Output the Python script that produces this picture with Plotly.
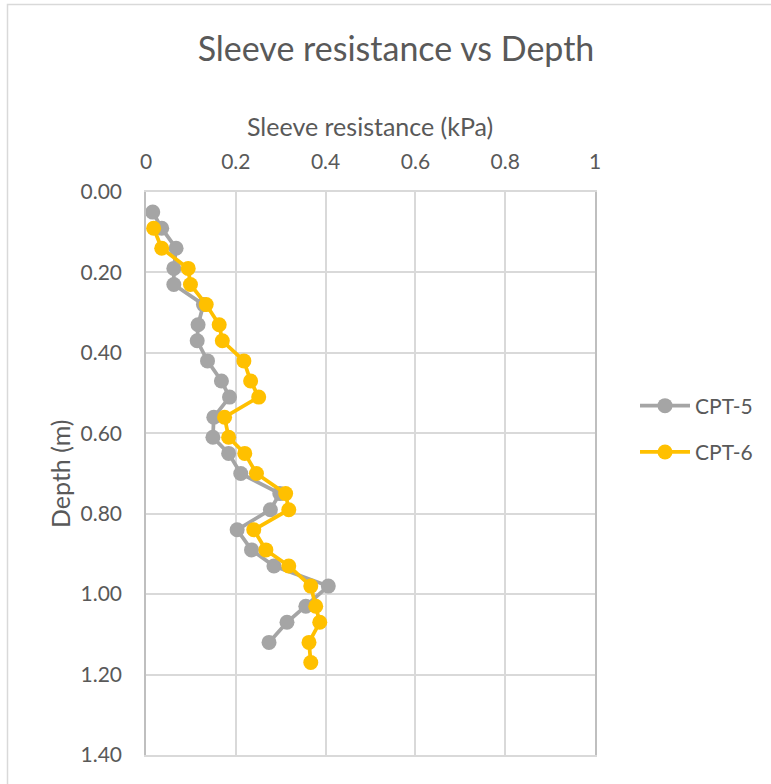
import plotly.graph_objects as go

# Sleeve resistance (kPa) against depth (m) for two cone penetration tests
cpt5_depth = [0.05, 0.09, 0.14, 0.19, 0.23, 0.28, 0.33, 0.37, 0.42, 0.47, 0.51, 0.56,
              0.61, 0.65, 0.70, 0.75, 0.79, 0.84, 0.89, 0.93, 0.98, 1.03, 1.07, 1.12]
cpt5_fs = [0.015, 0.035, 0.067, 0.062, 0.062, 0.128, 0.116, 0.114, 0.137, 0.168, 0.186, 0.151,
           0.149, 0.184, 0.211, 0.298, 0.277, 0.203, 0.235, 0.285, 0.406, 0.356, 0.314, 0.274]

cpt6_depth = [0.09, 0.14, 0.19, 0.23, 0.28, 0.33, 0.37, 0.42, 0.47, 0.51, 0.56, 0.61,
              0.65, 0.70, 0.75, 0.79, 0.84, 0.89, 0.93, 0.98, 1.03, 1.07, 1.12, 1.17]
cpt6_fs = [0.017, 0.035, 0.094, 0.099, 0.134, 0.163, 0.170, 0.218, 0.233, 0.251, 0.175, 0.184,
           0.220, 0.246, 0.311, 0.318, 0.240, 0.267, 0.318, 0.367, 0.378, 0.387, 0.363, 0.367]

x_ticks = [0, 0.2, 0.4, 0.6, 0.8, 1]
x_tick_labels = ["0", "0.2", "0.4", "0.6", "0.8", "1"]
y_ticks = [0.0, 0.2, 0.4, 0.6, 0.8, 1.0, 1.2, 1.4]
y_tick_labels = ["0.00", "0.20", "0.40", "0.60", "0.80", "1.00", "1.20", "1.40"]

FONT = "Lato"
TEXT = "#595959"
GRID = "#D9D9D9"

W, H = 771, 784
L, R, T, B = 146, 176, 192, 29
pw, ph = W - L - R, H - T - B


def px_x(p):
    return (p - L) / pw


def px_y(p):
    return (H - B - p) / ph


fig = go.Figure()
fig.add_trace(go.Scatter(
    x=cpt5_fs, y=cpt5_depth, name="CPT-5", mode="lines+markers", legendgroup="cpt5",
    line=dict(color="#A5A5A5", width=3.75),
    marker=dict(color="#A5A5A5", size=15),
))
fig.add_trace(go.Scatter(
    x=cpt6_fs, y=cpt6_depth, name="CPT-6", mode="lines+markers", legendgroup="cpt6",
    line=dict(color="#FFC000", width=3.75),
    marker=dict(color="#FFC000", size=15),
))

fig.update_layout(
    width=W, height=H,
    margin=dict(l=L, r=R, t=T, b=B, autoexpand=False),
    paper_bgcolor="white", plot_bgcolor="white",
    font=dict(family=FONT, color=TEXT),
    title=dict(text="Sleeve resistance vs Depth", x=396 / W, xanchor="center",
               y=1 - 49 / H, yanchor="middle", yref="container",
               font=dict(size=34, color=TEXT, family=FONT)),
    xaxis=dict(side="top", range=[0, 1], tickvals=x_ticks, ticktext=x_tick_labels,
               showgrid=True, gridcolor=GRID, gridwidth=1.5, zeroline=False,
               showline=True, linecolor=GRID, linewidth=1.5, mirror=True,
               ticks="", ticklabelstandoff=13,
               tickfont=dict(size=21, color=TEXT, family=FONT)),
    yaxis=dict(range=[1.4, 0], tickvals=y_ticks, ticktext=y_tick_labels,
               showgrid=True, gridcolor=GRID, gridwidth=1.5, zeroline=False,
               showline=True, linecolor="#BFBFBF", linewidth=1.5, mirror=True,
               ticks="", ticklabelstandoff=18,
               tickfont=dict(size=21, color=TEXT, family=FONT)),
    legend=dict(x=px_x(635), y=px_y(429), xanchor="left", yanchor="middle",
                traceorder="grouped",
                font=dict(size=21, color=TEXT, family=FONT),
                bgcolor="rgba(0,0,0,0)", tracegroupgap=16, itemwidth=50),
    annotations=[
        dict(text="Sleeve resistance (kPa)", x=px_x(370), y=px_y(126),
             xref="paper", yref="paper", showarrow=False,
             xanchor="center", yanchor="middle",
             font=dict(size=25, color=TEXT, family=FONT)),
        dict(text="Depth (m)", x=px_x(60), y=px_y(474),
             xref="paper", yref="paper", showarrow=False, textangle=-90,
             xanchor="center", yanchor="middle",
             font=dict(size=25, color=TEXT, family=FONT)),
    ],
    shapes=[
        dict(type="rect", xref="paper", yref="paper",
             x0=px_x(7.5), x1=px_x(800), y0=px_y(820), y1=px_y(4.5),
             line=dict(color="#D9D9D9", width=1.5), fillcolor="rgba(0,0,0,0)",
             layer="below"),
    ],
)

fig.write_html("out.html")
